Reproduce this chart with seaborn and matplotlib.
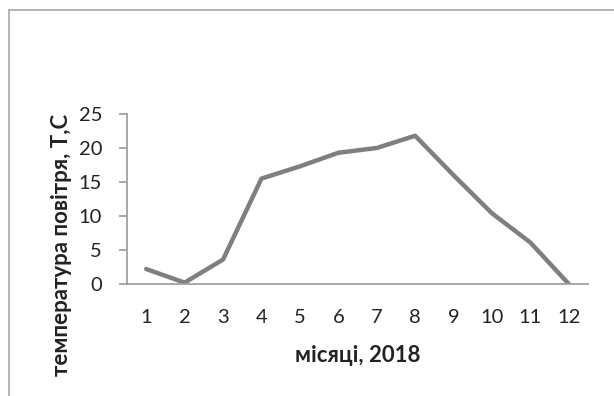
import matplotlib
matplotlib.use("Agg")
import matplotlib.pyplot as plt
from matplotlib.lines import Line2D
import seaborn as sns
import pandas as pd

months = [1, 2, 3, 4, 5, 6, 7, 8, 9, 10, 11, 12]
temps = [2.2, 0.2, 3.6, 15.5, 17.3, 19.3, 20.0, 21.8, 16.0, 10.4, 6.1, 0.0]
y_ticks = [0, 5, 10, 15, 20, 25]
x_label = "місяці, 2018"
y_label = "температура повітря, Т,С"

sns.set_style("white")
plt.rcParams["font.family"] = ["Lato", "DejaVu Sans"]

W, H = 614, 396
fig = plt.figure(figsize=(W / 100, H / 100), dpi=100)
ax = fig.add_axes([127 / W, 1 - 284 / H, (588 - 127) / W, (284 - 114) / H])

df = pd.DataFrame({"month": months, "temp": temps})
sns.lineplot(data=df, x="month", y="temp", ax=ax, color="#7f7f7f", linewidth=3.2)

ax.set_xlim(0.5, 12.5)
ax.set_ylim(0, 25)
ax.set_xticks(months)
ax.set_yticks(y_ticks)

axis_col = "#a0a0a0"
for side in ("top", "right"):
    ax.spines[side].set_visible(False)
for side in ("left", "bottom"):
    ax.spines[side].set_color(axis_col)
    ax.spines[side].set_linewidth(1.3)

ax.tick_params(axis="y", which="major", length=6, width=1.3, color=axis_col,
               direction="out", left=True, pad=12, labelsize=14.5, labelcolor="#222222")
ax.tick_params(axis="x", which="major", length=0, pad=18, labelsize=14.5,
               labelcolor="#222222")

ax.set_xlabel(x_label, fontsize=16, fontweight="bold", color="#222222")
ax.set_ylabel(y_label, fontsize=16, fontweight="bold", color="#222222")
ax.xaxis.label.set_va("center")
ax.yaxis.label.set_va("center")
ax.xaxis.set_label_coords((358 - 127) / 461, (284 - 356) / 170)
ax.yaxis.set_label_coords((62 - 127) / 461, (284 - 245) / 170)

# outer chart frame (top and left edges)
frame_col = "#b3b3b3"
fig.add_artist(Line2D([9 / W, 1], [1 - 9.5 / H, 1 - 9.5 / H], transform=fig.transFigure,
                      color=frame_col, linewidth=1.4))
fig.add_artist(Line2D([9 / W, 9 / W], [0, 1 - 9.5 / H], transform=fig.transFigure,
                      color=frame_col, linewidth=1.4))

fig.savefig("out.png", dpi=100, facecolor="white")
